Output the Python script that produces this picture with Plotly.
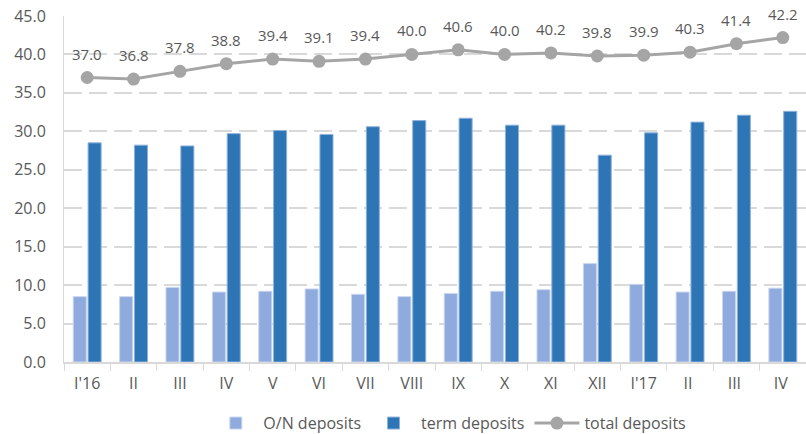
import plotly.graph_objects as go

months = ["I'16", "II", "III", "IV", "V", "VI", "VII", "VIII", "IX", "X",
          "XI", "XII", "I'17", "II ", "III ", "IV "]
on_deposits = [8.5, 8.5, 9.7, 9.1, 9.2, 9.5, 8.8, 8.5, 8.9, 9.2,
               9.4, 12.8, 10.1, 9.1, 9.2, 9.6]
term_deposits = [28.5, 28.2, 28.1, 29.7, 30.1, 29.6, 30.6, 31.4, 31.7, 30.8,
                 30.8, 26.9, 29.8, 31.2, 32.1, 32.6]
total_deposits = [37.0, 36.8, 37.8, 38.8, 39.4, 39.1, 39.4, 40.0, 40.6, 40.0,
                  40.2, 39.8, 39.9, 40.3, 41.4, 42.2]

text_color = "#595959"
grid_color = "#D9D9D9"
font_family = "Open Sans, Noto Sans, sans-serif"

fig = go.Figure()
fig.add_trace(go.Bar(
    x=months, y=on_deposits, name="O/N deposits",
    marker=dict(color="#8FAADC", line=dict(color="#C9D6EE", width=1)),
))
fig.add_trace(go.Bar(
    x=months, y=term_deposits, name="term deposits",
    marker=dict(color="#2E75B6", line=dict(color="#8DB3DC", width=1)),
))
fig.add_trace(go.Scatter(
    x=months, y=total_deposits, name="total deposits",
    mode="lines+markers",
    line=dict(color="#A5A5A5", width=3),
    marker=dict(color="#A5A5A5", size=13),
))

for m, v in zip(months, total_deposits):
    fig.add_annotation(
        x=m, y=v, text=f"{v:.1f}", showarrow=False,
        yanchor="bottom", yshift=12,
        font=dict(size=15, color=text_color, family=font_family),
    )

fig.update_layout(
    width=806, height=434,
    margin=dict(l=64, r=0, t=16, b=72),
    paper_bgcolor="white", plot_bgcolor="white",
    barmode="group", bargap=0.36, bargroupgap=0.12,
    font=dict(family=font_family, color=text_color, size=16),
    legend=dict(
        orientation="h", x=0.52, xanchor="center",
        yref="container", y=0.025, yanchor="middle",
        font=dict(size=16, color=text_color),
        itemwidth=45, tracegroupgap=0,
    ),
    xaxis=dict(
        type="category", range=[-0.5, len(months) - 0.5],
        showgrid=False, automargin=False,
        showline=True, linecolor=grid_color, linewidth=1.5,
        ticks="outside", tickson="boundaries", ticklen=7, tickcolor=grid_color,
        tickfont=dict(size=16, color=text_color), ticklabelstandoff=6,
    ),
    yaxis=dict(
        range=[0, 45], dtick=5, tickformat=".1f", automargin=False,
        showgrid=True, gridcolor=grid_color, gridwidth=1.5, griddash="18px,7px",
        zeroline=False,
        showline=True, linecolor=grid_color, linewidth=1,
        tickfont=dict(size=16, color=text_color),
        ticks="", ticklabelstandoff=14,
    ),
)

fig.write_html("out.html")
